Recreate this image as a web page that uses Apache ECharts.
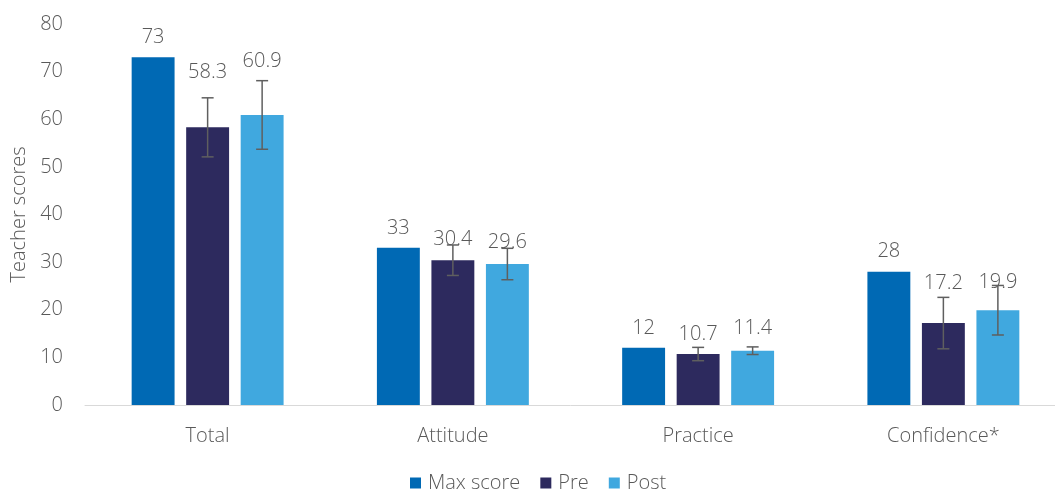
<!DOCTYPE html>
<html>
<head>
<meta charset="utf-8">
<script src="https://cdn.jsdelivr.net/npm/echarts@6/dist/echarts.min.js"></script>
<style>
  html, body { margin: 0; padding: 0; background: #fff; }
  #chart { width: 1055px; height: 490px; }
</style>
</head>
<body>
<div id="chart"></div>
<script>
// Data
var categories = ['Total', 'Attitude', 'Practice', 'Confidence*'];
var seriesNames = ['Max score', 'Pre', 'Post'];
var maxScore = [73, 33, 12, 28];
var preScore = [58.3, 30.4, 10.7, 17.2];
var postScore = [60.9, 29.6, 11.4, 19.9];
// error bar half-widths (estimated)
var preError = [6.2, 3.2, 1.4, 5.4];
var postError = [7.2, 3.3, 0.8, 5.2];

var colors = ['#0069B4', '#2D2A5E', '#40A8DF'];
var textColor = '#595959';
var font = '"Open Sans", sans-serif';
var fs = 20;
var fw = 300;
var barPct = 0.175;
var gapPct = 0.27;

// extra lift (px) of the value labels, as placed in the original
var preLift = [35, 1, 0, 20];
var postLift = [34, 2, 2, 8];

var chart = echarts.init(document.getElementById('chart'));

function labelled(values, lift) {
    return values.map(function (v, i) {
        return { value: v, label: { offset: [0, -lift[i]] } };
    });
}

var errData = [];
preScore.forEach(function (v, i) { errData.push([i, 1, v - preError[i], v + preError[i]]); });
postScore.forEach(function (v, i) { errData.push([i, 2, v - postError[i], v + postError[i]]); });

var barLabel = {
    show: true,
    position: 'top',
    distance: 10,
    color: textColor,
    fontSize: fs,
    fontWeight: fw,
    fontFamily: font,
    formatter: function (p) { return p.value; }
};

var option = {
    animation: false,
    textStyle: { fontFamily: font },
    legend: {
        bottom: -8,
        left: 405,
        itemWidth: 11,
        itemHeight: 11,
        itemGap: 20,
        icon: 'rect',
        textStyle: { color: textColor, fontSize: fs, fontWeight: fw, fontFamily: font, padding: [0, 0, 0, 2] },
        data: seriesNames
    },
    grid: { left: 85, right: -11, top: 24, bottom: 85, outerBoundsMode: 'none' },
    xAxis: {
        type: 'category',
        data: categories,
        axisTick: { show: false },
        axisLine: { lineStyle: { color: '#D9D9D9', width: 1 } },
        axisLabel: { color: textColor, fontSize: fs, fontWeight: fw, fontFamily: font, margin: 21 }
    },
    yAxis: {
        type: 'value',
        min: 0,
        max: 80,
        interval: 10,
        name: 'Teacher scores',
        nameLocation: 'middle',
        nameGap: 56,
        nameTextStyle: { color: textColor, fontSize: fs, fontWeight: fw, fontFamily: font },
        splitLine: { show: false },
        axisLine: { show: false },
        axisTick: { show: false },
        axisLabel: { color: textColor, fontSize: fs, fontWeight: fw, fontFamily: font, margin: 22 }
    },
    series: [
        {
            name: seriesNames[0], type: 'bar', data: maxScore,
            barWidth: (barPct * 100) + '%', barGap: (gapPct * 100) + '%',
            itemStyle: { color: colors[0] },
            label: barLabel
        },
        {
            name: seriesNames[1], type: 'bar', data: labelled(preScore, preLift),
            barWidth: (barPct * 100) + '%', barGap: (gapPct * 100) + '%',
            itemStyle: { color: colors[1] },
            label: barLabel
        },
        {
            name: seriesNames[2], type: 'bar', data: labelled(postScore, postLift),
            barWidth: (barPct * 100) + '%', barGap: (gapPct * 100) + '%',
            itemStyle: { color: colors[2] },
            label: barLabel
        },
        {
            type: 'custom',
            name: 'errors',
            z: 10,
            data: errData,
            renderItem: function (params, api) {
                var cat = api.value(0);
                var s = api.value(1);
                var catW = api.size([1, 0])[0];
                var w = catW * barPct;
                var x = api.coord([cat, 0])[0] + (s - 1) * (1 + gapPct) * w;
                var lo = api.coord([cat, api.value(2)])[1];
                var hi = api.coord([cat, api.value(3)])[1];
                var cap = 6;
                var st = { stroke: '#5F5F5F', lineWidth: 1.5 };
                return {
                    type: 'group',
                    children: [
                        { type: 'line', shape: { x1: x, y1: lo, x2: x, y2: hi }, style: st },
                        { type: 'line', shape: { x1: x - cap, y1: lo, x2: x + cap, y2: lo }, style: st },
                        { type: 'line', shape: { x1: x - cap, y1: hi, x2: x + cap, y2: hi }, style: st }
                    ]
                };
            }
        }
    ]
};

chart.setOption(option);
</script>
</body>
</html>
